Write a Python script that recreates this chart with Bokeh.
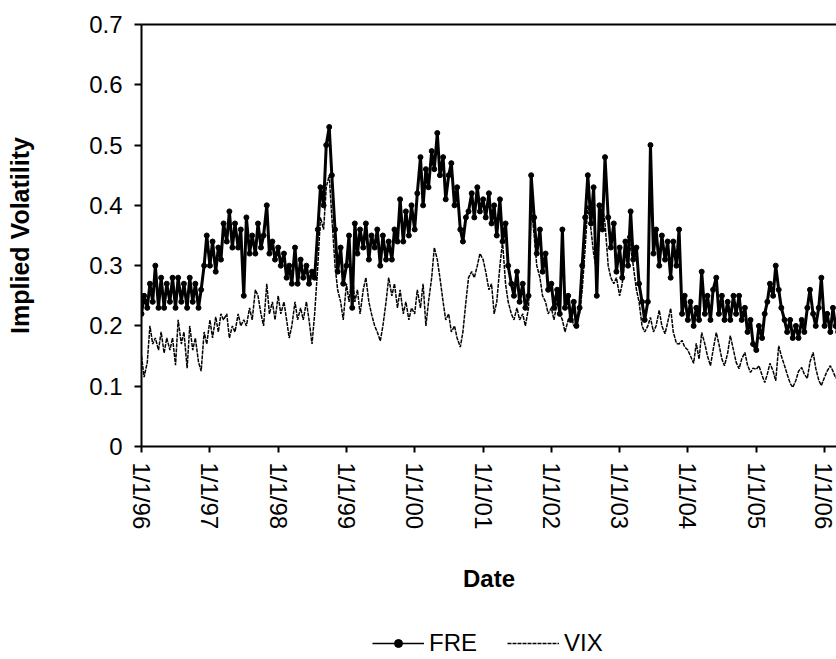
import pandas as pd
from bokeh.plotting import figure
from bokeh.layouts import column
from bokeh.models import (FixedTicker, CustomJSTickFormatter, DatetimeAxis, Legend,
                          LegendItem, Range1d, ColumnDataSource)
from bokeh.embed import file_html
from bokeh.resources import INLINE

# semi-monthly readings (1st and 15th of each month), Jan 1996 - Mar 2006
fre = [
    # 1996
    0.22, 0.25, 0.23, 0.27, 0.24, 0.30, 0.23, 0.28, 0.23, 0.27, 0.24, 0.28,
    0.23, 0.28, 0.24, 0.27, 0.23, 0.28, 0.24, 0.27, 0.23, 0.26, 0.30, 0.35,
    # 1997
    0.30, 0.34, 0.29, 0.33, 0.31, 0.37, 0.34, 0.39, 0.33, 0.37, 0.33, 0.36,
    0.25, 0.38, 0.32, 0.35, 0.32, 0.37, 0.33, 0.35, 0.40, 0.32, 0.34, 0.31,
    # 1998
    0.33, 0.30, 0.32, 0.28, 0.30, 0.27, 0.33, 0.27, 0.31, 0.28, 0.30, 0.27,
    0.29, 0.28, 0.36, 0.43, 0.40, 0.50, 0.53, 0.45, 0.36, 0.29, 0.33, 0.27,
    # 1999
    0.30, 0.35, 0.23, 0.37, 0.32, 0.36, 0.33, 0.37, 0.31, 0.35, 0.33, 0.36,
    0.30, 0.35, 0.31, 0.34, 0.31, 0.36, 0.34, 0.41, 0.34, 0.39, 0.35, 0.40,
    # 2000
    0.36, 0.42, 0.48, 0.40, 0.46, 0.43, 0.49, 0.46, 0.52, 0.45, 0.48, 0.41,
    0.45, 0.47, 0.40, 0.43, 0.36, 0.34, 0.38, 0.39, 0.42, 0.38, 0.43, 0.39,
    # 2001
    0.41, 0.38, 0.42, 0.37, 0.40, 0.35, 0.41, 0.34, 0.37, 0.30, 0.27, 0.25,
    0.29, 0.24, 0.27, 0.23, 0.25, 0.45, 0.38, 0.32, 0.36, 0.29, 0.32, 0.26,
    # 2002
    0.27, 0.23, 0.26, 0.22, 0.36, 0.23, 0.25, 0.21, 0.24, 0.20, 0.23, 0.30,
    0.38, 0.45, 0.37, 0.43, 0.25, 0.40, 0.36, 0.48, 0.38, 0.33, 0.37, 0.29,
    # 2003
    0.33, 0.28, 0.34, 0.30, 0.39, 0.31, 0.33, 0.27, 0.24, 0.21, 0.24, 0.50,
    0.32, 0.36, 0.30, 0.35, 0.31, 0.34, 0.28, 0.34, 0.30, 0.36, 0.22, 0.25,
    # 2004
    0.21, 0.24, 0.20, 0.23, 0.21, 0.29, 0.22, 0.25, 0.21, 0.26, 0.28, 0.22,
    0.25, 0.21, 0.24, 0.21, 0.25, 0.22, 0.25, 0.21, 0.23, 0.19, 0.21, 0.17,
    # 2005
    0.16, 0.20, 0.18, 0.22, 0.24, 0.27, 0.25, 0.30, 0.26, 0.23, 0.21, 0.19,
    0.21, 0.18, 0.20, 0.18, 0.21, 0.19, 0.23, 0.26, 0.22, 0.20, 0.23, 0.28,
    # 2006
    0.20, 0.22, 0.19, 0.23, 0.20, 0.19,
]

vix = [
    # 1996
    0.15, 0.115, 0.14, 0.20, 0.17, 0.18, 0.16, 0.19, 0.155, 0.18, 0.16, 0.18,
    0.135, 0.21, 0.17, 0.19, 0.13, 0.20, 0.16, 0.18, 0.14, 0.125, 0.19, 0.17,
    # 1997
    0.21, 0.18, 0.215, 0.19, 0.22, 0.21, 0.22, 0.18, 0.20, 0.19, 0.22, 0.20,
    0.21, 0.20, 0.23, 0.21, 0.26, 0.25, 0.22, 0.20, 0.27, 0.22, 0.24, 0.21,
    # 1998
    0.25, 0.22, 0.24, 0.21, 0.18, 0.20, 0.24, 0.21, 0.23, 0.21, 0.24, 0.21,
    0.17, 0.22, 0.30, 0.38, 0.36, 0.43, 0.45, 0.38, 0.30, 0.26, 0.24, 0.21,
    # 1999
    0.27, 0.24, 0.29, 0.24, 0.26, 0.22, 0.26, 0.28, 0.24, 0.22, 0.20, 0.19,
    0.175, 0.20, 0.24, 0.28, 0.25, 0.27, 0.23, 0.26, 0.22, 0.24, 0.21, 0.23,
    # 2000
    0.22, 0.26, 0.23, 0.27, 0.20, 0.24, 0.28, 0.33, 0.31, 0.28, 0.24, 0.21,
    0.22, 0.19, 0.20, 0.18, 0.165, 0.19, 0.24, 0.28, 0.29, 0.28, 0.30, 0.32,
    # 2001
    0.31, 0.29, 0.26, 0.27, 0.22, 0.24, 0.30, 0.34, 0.27, 0.24, 0.22, 0.21,
    0.23, 0.21, 0.22, 0.20, 0.23, 0.40, 0.35, 0.30, 0.28, 0.25, 0.24, 0.22,
    # 2002
    0.23, 0.21, 0.24, 0.22, 0.21, 0.19, 0.21, 0.22, 0.20, 0.21, 0.22, 0.26,
    0.33, 0.40, 0.36, 0.32, 0.29, 0.36, 0.40, 0.37, 0.30, 0.28, 0.27, 0.28,
    # 2003
    0.25, 0.27, 0.32, 0.35, 0.33, 0.30, 0.26, 0.24, 0.20, 0.19, 0.20, 0.214,
    0.19, 0.20, 0.226, 0.20, 0.187, 0.206, 0.229, 0.19, 0.171, 0.17, 0.176, 0.165,
    # 2004
    0.16, 0.15, 0.138, 0.171, 0.145, 0.189, 0.17, 0.15, 0.134, 0.16, 0.189, 0.17,
    0.145, 0.134, 0.155, 0.184, 0.16, 0.14, 0.129, 0.145, 0.156, 0.135, 0.123, 0.13,
    # 2005
    0.128, 0.134, 0.118, 0.106, 0.12, 0.138, 0.125, 0.109, 0.167, 0.15, 0.134, 0.12,
    0.105, 0.098, 0.11, 0.125, 0.131, 0.12, 0.113, 0.14, 0.156, 0.13, 0.11, 0.101,
    # 2006
    0.115, 0.125, 0.134, 0.125, 0.114, 0.114,
]

x_tick_dates = ["1996-01-01", "1997-01-01", "1998-01-01", "1999-01-01", "2000-01-01",
                "2001-01-01", "2002-01-01", "2003-01-01", "2004-01-01", "2005-01-01",
                "2006-01-01"]
x_tick_labels = ["1/1/96", "1/1/97", "1/1/98", "1/1/99", "1/1/00", "1/1/01",
                 "1/1/02", "1/1/03", "1/1/04", "1/1/05", "1/1/06"]
y_ticks = [0, 0.1, 0.2, 0.3, 0.4, 0.5, 0.6, 0.7]
y_tick_labels = ["0", "0.1", "0.2", "0.3", "0.4", "0.5", "0.6", "0.7"]
series_names = ["FRE", "VIX"]

dates = pd.date_range("1996-01-01", periods=len(fre), freq="SMS")
src = ColumnDataSource(dict(date=dates, fre=fre, vix=vix))

FONT = "Liberation Sans"
LOOKUP = "const i = tvals.indexOf(tick); return i >= 0 ? tlabels[i] : '';"

p = figure(width=836, height=628, x_axis_type="datetime",
           output_backend="svg", toolbar_location=None,
           x_range=Range1d(pd.Timestamp("1996-01-01"), pd.Timestamp("2006-03-06")),
           y_range=Range1d(0, 0.7),
           min_border_left=141, min_border_right=0, min_border_top=24,
           min_border_bottom=182)
p.outline_line_color = None
p.xgrid.visible = False
p.ygrid.visible = False
p.background_fill_color = "white"
p.border_fill_color = "white"

FRE_STYLE = dict(line_color="black", line_width=3)
FRE_PTS = dict(size=5, color="black")
VIX_STYLE = dict(line_color="black", line_width=1.5, line_dash="4 1")

p.line("date", "fre", source=src, **FRE_STYLE)
p.scatter("date", "fre", source=src, **FRE_PTS)
p.line("date", "vix", source=src, **VIX_STYLE)

x_tick_ms = [int(pd.Timestamp(d).value // 10**6) for d in x_tick_dates]
xa = p.xaxis[0]
xa.ticker = FixedTicker(ticks=x_tick_ms)
xa.formatter = CustomJSTickFormatter(args=dict(tvals=x_tick_ms, tlabels=x_tick_labels),
                                     code=LOOKUP)
xa.major_label_orientation = "vertical"
xa.major_label_text_font = FONT
xa.major_label_text_font_size = "24px"
xa.major_label_text_color = "black"
xa.major_label_standoff = 10
xa.major_tick_out = 6
xa.major_tick_in = 0
xa.major_tick_line_width = 2
xa.minor_tick_line_color = None
xa.axis_line_width = 2
xa.axis_label = "Date"
xa.axis_label_text_font = FONT
xa.axis_label_text_font_style = "bold"
xa.axis_label_text_font_size = "24px"
xa.axis_label_text_color = "black"
xa.axis_label_standoff = 33

ya = p.yaxis[0]
ya.ticker = FixedTicker(ticks=y_ticks)
ya.formatter = CustomJSTickFormatter(args=dict(tvals=y_ticks, tlabels=y_tick_labels),
                                     code=LOOKUP)
ya.major_label_text_font = FONT
ya.major_label_text_font_size = "24px"
ya.major_label_text_color = "black"
ya.major_label_standoff = 12
ya.major_tick_out = 7
ya.major_tick_in = 0
ya.major_tick_line_width = 2
ya.minor_tick_line_color = None
ya.axis_line_width = 2
ya.axis_label = "Implied Volatility"
ya.axis_label_text_font = FONT
ya.axis_label_text_font_style = "bold"
ya.axis_label_text_font_size = "25px"
ya.axis_label_text_color = "black"
ya.axis_label_standoff = 52

top = DatetimeAxis(major_tick_line_color=None, minor_tick_line_color=None,
                   major_label_text_font_size="0px", axis_line_width=2)
top.ticker = FixedTicker(ticks=[])
p.add_layout(top, "above")

# legend strip below the chart (its sample glyphs reuse the series, off-range)
lg = figure(width=836, height=31, output_backend="svg", toolbar_location=None,
            x_range=Range1d(0, 1), y_range=Range1d(0, 1),
            min_border=0)
lg.axis.visible = False
lg.xgrid.visible = False
lg.ygrid.visible = False
lg.outline_line_color = None
k1 = lg.line("date", "fre", source=src, line_color="black", line_width=1.3)
k1p = lg.scatter("date", "fre", source=src, size=3, color="black")
k2 = lg.line("date", "vix", source=src, line_color="black", line_width=1.5,
             line_dash="4 1")
legend = Legend(items=[LegendItem(label=series_names[0], renderers=[k1, k1p]),
                       LegendItem(label=series_names[1], renderers=[k2])],
                orientation="horizontal", location=(231, 2),
                border_line_color=None, background_fill_alpha=0,
                padding=0, margin=0, glyph_width=52, glyph_height=20,
                label_standoff=5, spacing=30,
                label_text_font=FONT, label_text_font_size="24px",
                label_text_color="black")
lg.add_layout(legend)

page = column(p, lg, spacing=0)
open("out.html", "w").write(file_html(page, INLINE))
